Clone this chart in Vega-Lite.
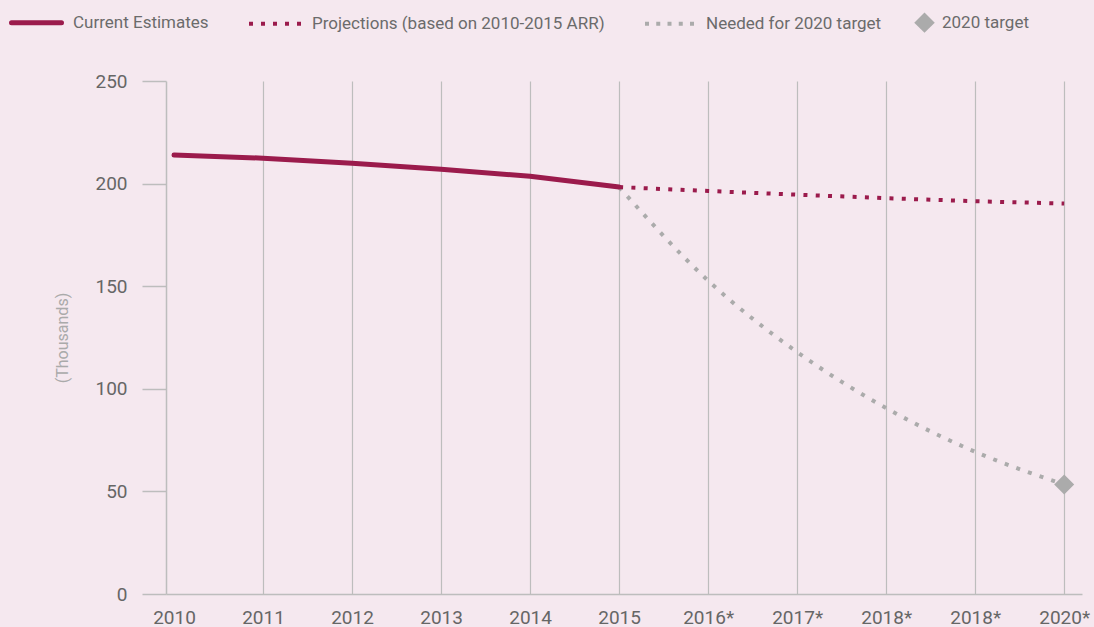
{
  "$schema": "https://vega.github.io/schema/vega-lite/v6.json",
  "autosize": "none",
  "width": 916,
  "height": 513,
  "padding": {"left": 166, "top": 81, "right": 12, "bottom": 33},
  "background": "#f5e8ef",
  "config": {
    "view": {"stroke": null},
    "font": "Roboto"
  },
  "data": {
    "values": [
      {"i": 0, "series": "Current Estimates", "value": 213.9},
      {"i": 1, "series": "Current Estimates", "value": 212.4},
      {"i": 2, "series": "Current Estimates", "value": 209.9},
      {"i": 3, "series": "Current Estimates", "value": 207.0},
      {"i": 4, "series": "Current Estimates", "value": 203.6},
      {"i": 5, "series": "Current Estimates", "value": 198.3},
      {"i": 5, "series": "Projections (based on 2010-2015 ARR)", "value": 198.3},
      {"i": 6, "series": "Projections (based on 2010-2015 ARR)", "value": 196.4},
      {"i": 7, "series": "Projections (based on 2010-2015 ARR)", "value": 194.6},
      {"i": 8, "series": "Projections (based on 2010-2015 ARR)", "value": 192.9},
      {"i": 9, "series": "Projections (based on 2010-2015 ARR)", "value": 191.4},
      {"i": 10, "series": "Projections (based on 2010-2015 ARR)", "value": 190.3},
      {"i": 5, "series": "Needed for 2020 target", "value": 198.3},
      {"i": 6, "series": "Needed for 2020 target", "value": 152.7},
      {"i": 7, "series": "Needed for 2020 target", "value": 117.9},
      {"i": 8, "series": "Needed for 2020 target", "value": 90.6},
      {"i": 9, "series": "Needed for 2020 target", "value": 69.3},
      {"i": 10, "series": "Needed for 2020 target", "value": 53.4},
      {"i": 10, "series": "2020 target", "value": 53.4}
    ]
  },
  "encoding": {
    "x": {
      "field": "i",
      "type": "quantitative",
      "scale": {"domain": [-0.09, 10.2], "nice": false, "zero": false},
      "axis": {
        "title": null,
        "values": [0, 1, 2, 3, 4, 5, 6, 7, 8, 9, 10],
        "labelExpr": "['2010','2011','2012','2013','2014','2015','2016*','2017*','2018*','2018*','2020*'][datum.value]",
        "labelFontSize": 19,
        "labelColor": "#666666",
        "labelPadding": 14,
        "labelFlush": false,
        "labelOverlap": false,
        "ticks": false,
        "domainColor": "#bdbdbd",
        "domainWidth": 1.5,
        "grid": true,
        "gridColor": "#bdbdbd",
        "gridWidth": 1.2,
        "gridOpacity": {"condition": {"test": "datum.value == 0", "value": 0}, "value": 1}
      }
    },
    "y": {
      "field": "value",
      "type": "quantitative",
      "scale": {"domain": [0, 250], "nice": false},
      "axis": {
        "title": "(Thousands)",
        "titleColor": "#aaaaaa",
        "titleFontSize": 16,
        "titleFontWeight": "normal",
        "titlePadding": 24,
        "values": [0, 50, 100, 150, 200, 250],
        "labelFontSize": 19,
        "labelColor": "#666666",
        "labelPadding": 15,
        "tickSize": 24,
        "tickColor": "#bdbdbd",
        "tickWidth": 1.5,
        "domainColor": "#bdbdbd",
        "domainWidth": 1.5,
        "grid": false
      }
    },
    "color": {
      "field": "series",
      "type": "nominal",
      "scale": {
        "domain": ["Current Estimates", "Projections (based on 2010-2015 ARR)", "Needed for 2020 target", "2020 target"],
        "range": ["#9b1b4c", "#9b1b4c", "#ababab", "#ababab"]
      },
      "legend": {
        "title": null,
        "orient": "none",
        "legendX": -157,
        "legendY": -67,
        "direction": "horizontal",
        "columns": 4,
        "columnPadding": 32,
        "labelFontSize": 17,
        "labelColor": "#6b6b6b",
        "labelOffset": 12,
        "labelLimit": 450,
        "symbolSize": 2500,
        "symbolType": "stroke",
        "encode": {
          "symbols": {
            "update": {
              "x": {"signal": "datum.value === '2020 target' ? 10.5 : datum.value === 'Current Estimates' ? 27.5 : datum.value === 'Needed for 2020 target' ? 24.5 : 26"},
              "shape": {"signal": "datum.value === '2020 target' ? 'diamond' : 'stroke'"},
              "size": {"signal": "datum.value === '2020 target' ? 420 : datum.value === 'Current Estimates' ? 2500 : datum.value === 'Needed for 2020 target' ? 2401 : 2704"},
              "strokeDash": {"signal": "datum.value === 'Current Estimates' || datum.value === '2020 target' ? [1, 0] : datum.value === 'Needed for 2020 target' ? [4, 7.25] : [4, 8]"},
              "strokeWidth": {"signal": "datum.value === 'Current Estimates' ? 5 : datum.value === '2020 target' ? 0 : 4"},
              "strokeCap": {"signal": "datum.value === 'Current Estimates' ? 'round' : 'butt'"},
              "fill": {"signal": "datum.value === '2020 target' ? '#ababab' : 'transparent'"},
              "opacity": {"value": 1}
            }
          },
          "labels": {
            "update": {
              "x": {"signal": "datum.value === '2020 target' ? 28 : datum.value === 'Current Estimates' ? 64 : datum.value === 'Needed for 2020 target' ? 61 : 63"}
            }
          }
        }
      }
    }
  },
  "layer": [
    {
      "transform": [{"filter": "datum.series === 'Needed for 2020 target'"}],
      "mark": {"type": "line", "strokeWidth": 4, "strokeDash": [4, 8.3], "interpolate": "monotone"}
    },
    {
      "transform": [{"filter": "datum.series === 'Projections (based on 2010-2015 ARR)'"}],
      "mark": {"type": "line", "strokeWidth": 4, "strokeDash": [4, 8.3]}
    },
    {
      "transform": [{"filter": "datum.series === 'Current Estimates'"}],
      "mark": {"type": "line", "strokeWidth": 5, "strokeCap": "round", "strokeJoin": "round"}
    },
    {
      "transform": [{"filter": "datum.series === '2020 target'"}],
      "mark": {"type": "point", "shape": "diamond", "filled": true, "size": 400, "opacity": 1}
    }
  ]
}
